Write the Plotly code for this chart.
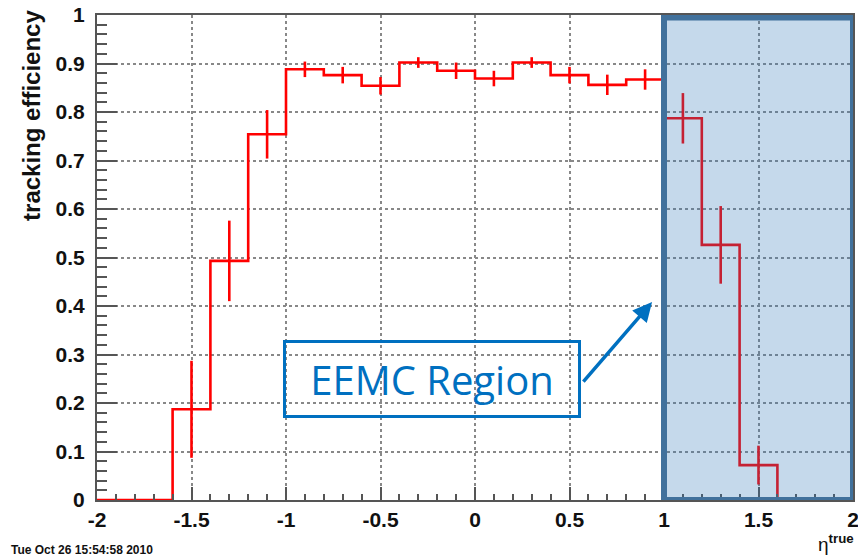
import plotly.graph_objects as go

# ---- data ----
bin_edges = [-2.0, -1.8, -1.6, -1.4, -1.2, -1.0, -0.8, -0.6, -0.4, -0.2, 0.0,
             0.2, 0.4, 0.6, 0.8, 1.0, 1.2, 1.4, 1.6, 1.8, 2.0]
efficiency = [0.0, 0.0, 0.187, 0.493, 0.754, 0.888, 0.876, 0.854, 0.902, 0.885,
              0.869, 0.902, 0.876, 0.856, 0.867, 0.787, 0.526, 0.072, 0.0, 0.0]
eff_error = [0.0, 0.0, 0.100, 0.083, 0.050, 0.016, 0.017, 0.018, 0.011, 0.017,
             0.016, 0.011, 0.017, 0.021, 0.021, 0.052, 0.080, 0.040, 0.0, 0.0]
x_ticks = [-2, -1.5, -1, -0.5, 0, 0.5, 1, 1.5, 2]
x_tick_labels = ["-2", "-1.5", "-1", "-0.5", "0", "0.5", "1", "1.5", "2"]
y_ticks = [0, 0.1, 0.2, 0.3, 0.4, 0.5, 0.6, 0.7, 0.8, 0.9, 1]
y_tick_labels = ["0", "0.1", "0.2", "0.3", "0.4", "0.5", "0.6", "0.7", "0.8", "0.9", "1"]
region_range = [1.0, 2.0]
date_text = "Tue Oct 26 15:54:58 2010"

RED = "#ff0000"
AX = "#555555"
FONT = "Liberation Sans, Arial, sans-serif"

centers = [(bin_edges[i] + bin_edges[i + 1]) / 2 for i in range(len(efficiency))]
step_x = list(bin_edges)
step_y = list(efficiency) + [efficiency[-1]]

fig = go.Figure()
fig.add_trace(go.Scatter(x=step_x, y=step_y, mode="lines", line_shape="hv",
                         line=dict(color=RED, width=2.6), hoverinfo="skip",
                         showlegend=False))
ex = [c for c, v in zip(centers, efficiency) if v > 0]
ey = [v for v in efficiency if v > 0]
ee = [e for e, v in zip(eff_error, efficiency) if v > 0]
fig.add_trace(go.Scatter(x=ex, y=ey, mode="markers", marker=dict(size=1, color=RED),
                         error_y=dict(type="data", array=ee, visible=True, width=0,
                                      thickness=2.6, color=RED),
                         showlegend=False))

# shaded EEMC region
fig.add_shape(type="rect", xref="x", yref="y", x0=region_range[0], x1=region_range[1],
              y0=0, y1=0.995, layer="above",
              fillcolor="rgba(46,117,182,0.28)",
              line=dict(color="rgb(65,113,156)", width=6))

# label box
fig.add_annotation(x=-0.225, y=0.2495, xref="x", yref="y", text="EEMC Region",
                   showarrow=False, font=dict(family="Open Sans", size=40, color="#0070C0"),
                   width=292, height=72, borderpad=0, bordercolor="#0070C0",
                   borderwidth=3, xanchor="center", yanchor="middle")
# arrow
fig.add_annotation(x=0.937, y=0.408, xref="x", yref="y", text="", showarrow=True,
                   ax=-70, ay=81, arrowhead=2, arrowsize=1.1, arrowwidth=3.5,
                   arrowcolor="#0070C0")

# axis title
fig.add_annotation(x=-0.087, y=1.014, xref="paper", yref="paper",
                   text="<b>tracking efficiency</b>", textangle=-90, showarrow=False,
                   font=dict(family=FONT, size=24, color="#111111"),
                   xanchor="center", yanchor="top")
fig.add_annotation(x=1.004, y=-0.088, xref="paper", yref="paper",
                   text="η<sup><b>true</b></sup>", showarrow=False,
                   font=dict(family=FONT, size=19, color="#111111"),
                   xanchor="right", yanchor="middle")
fig.add_annotation(x=-0.116, y=-0.103, xref="paper", yref="paper",
                   text="<b>" + date_text + "</b>", showarrow=False,
                   font=dict(family=FONT, size=12, color="#111111"),
                   xanchor="left", yanchor="middle")

fig.update_xaxes(range=[-2, 2], tickvals=x_ticks, ticktext=x_tick_labels,
                 ticks="inside", ticklen=13, tickwidth=2, tickcolor=AX,
                 showline=True, linecolor=AX, linewidth=2, mirror=True,
                 showgrid=True, gridcolor="#888888", griddash="dot", gridwidth=1.5,
                 zeroline=False, ticklabelstandoff=0, automargin=False,
                 ticklabeloverflow="allow",
                 tickfont=dict(family=FONT, size=21, color="#111111", weight="bold"),
                 minor=dict(dtick=0.1, tick0=0, ticks="inside", ticklen=6,
                            tickwidth=1.5, tickcolor=AX, showgrid=False))
fig.update_yaxes(range=[0, 1], tickvals=y_ticks, ticktext=y_tick_labels,
                 ticks="inside", ticklen=20, tickwidth=2, tickcolor=AX,
                 showline=True, linecolor=AX, linewidth=2, mirror=True,
                 showgrid=True, gridcolor="#888888", griddash="dot", gridwidth=1.5,
                 zeroline=False, ticklabelstandoff=6, automargin=False,
                 ticklabeloverflow="allow",
                 tickfont=dict(family=FONT, size=21, color="#111111", weight="bold"),
                 minor=dict(dtick=0.02, tick0=0, ticks="inside", ticklen=10,
                            tickwidth=1.5, tickcolor=AX, showgrid=False))

fig.update_layout(width=858, height=558, margin=dict(l=97, r=5, t=15, b=58),
                  paper_bgcolor="white", plot_bgcolor="white", showlegend=False)

fig.write_html("out.html", config={"displayModeBar": False},
               post_script="document.body.style.margin='0';document.body.style.overflow='hidden';")
